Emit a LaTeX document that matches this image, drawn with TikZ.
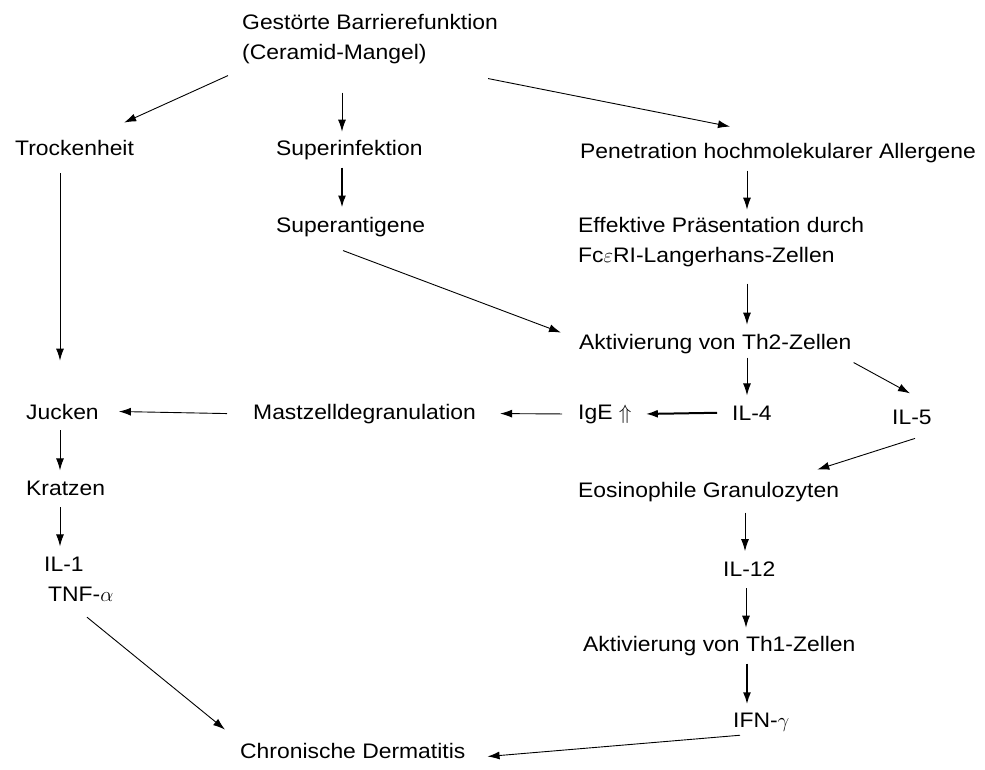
\documentclass[tikz,border=0pt]{standalone}
\usepackage{fontspec}
\setmainfont{Liberation Sans}[FakeStretch=1.09]
\usetikzlibrary{arrows.meta}

\tikzset{
  lbl/.style={inner sep=0pt, anchor=base west, align=left,
    font=\fontsize{21}{30}\selectfont},
  arr/.style={line width=0.9pt, -{Latex[length=12pt,width=8pt]}},
  arrbold/.style={arr, line width=2pt},
}

\begin{document}
\begin{tikzpicture}[x=1pt,y=-1pt]
\useasboundingbox (0,0) rectangle (985,769);

\node[lbl] (gest) at (242,59) {Gestörte Barrierefunktion\\(Ceramid-Mangel)};
\node[lbl] (trock) at (15,155) {Trockenheit};
\node[lbl] (superinf) at (276,155) {Superinfektion};
\node[lbl] (penet) at (580,158) {Penetration hochmolekularer Allergene};
\node[lbl] (superant) at (276,232) {Superantigene};
\node[lbl] (effekt) at (578,262) {Effektive Präsentation durch\\Fc$\varepsilon$RI-Langerhans-Zellen};
\node[lbl] (th2) at (579,349) {Aktivierung von Th2-Zellen};
\node[lbl] (jucken) at (26,419) {Jucken};
\node[lbl] (mast) at (253,419) {Mastzelldegranulation};
\node[lbl] (ige) at (578,419) {IgE $\Uparrow$};
\node[lbl] (il4) at (732,420) {IL-4};
\node[lbl] (il5) at (892,424) {IL-5};
\node[lbl] (kratzen) at (26,495) {Kratzen};
\node[lbl] (eos) at (578,497) {Eosinophile Granulozyten};
\node[lbl] (il1) at (44,601) {IL-1\\\hspace{4pt}TNF-$\alpha$};
\node[lbl] (il12) at (723,576) {IL-12};
\node[lbl] (th1) at (583,651) {Aktivierung von Th1-Zellen};
\node[lbl] (ifn) at (733,727) {IFN-$\gamma$};
\node[lbl] (chron) at (240,758) {Chronische Dermatitis};

\draw[arr] ([xshift=-14pt,yshift=-12pt]gest.south west) -- ([xshift=-10pt,yshift=17pt]trock.north east);
\draw[arr] ([xshift=100pt,yshift=-29pt]gest.south west) -- ([xshift=66pt,yshift=8pt]superinf.north west);
\draw[arr] ([xshift=-10pt,yshift=-15pt]gest.south east) -- ([xshift=150pt,yshift=16pt]penet.north west);
\draw[arrbold] ([xshift=66pt,yshift=-8pt]superinf.south west) -- ([xshift=66pt,yshift=9pt]superant.north west);
\draw[arr] ([xshift=167pt,yshift=-8pt]penet.south west) -- ([xshift=169pt,yshift=7pt]effekt.north west);
\draw[arr] ([xshift=67pt,yshift=-14pt]superant.south west) -- ([xshift=-18pt,yshift=1pt]th2.north west);
\draw[arr] ([xshift=169pt,yshift=-17pt]effekt.south west) -- ([xshift=168pt,yshift=9pt]th2.north west);
\draw[arr] ([xshift=45pt,yshift=-18pt]trock.south west) -- ([xshift=34pt,yshift=43pt]jucken.north west);
\draw[arr] ([xshift=168pt,yshift=-4pt]th2.south west) -- ([xshift=15pt,yshift=10pt]il4.north west);
\draw[arr] ([xshift=2pt,yshift=-9pt]th2.south east) -- ([xshift=18pt,yshift=16pt]il5.north west);
\draw[arrbold] ([xshift=-15pt]il4.west) -- ([xshift=14pt]ige.east);
\draw[arr] ([xshift=-16pt]ige.west) -- ([xshift=24pt]mast.east);
\draw[arr] ([xshift=-26pt]mast.west) -- ([xshift=20pt]jucken.east);
\draw[arr] ([xshift=34pt,yshift=-11pt]jucken.south west) -- ([xshift=34pt,yshift=10pt]kratzen.north west);
\draw[arr] ([xshift=34pt,yshift=-12pt]kratzen.south west) -- ([xshift=16pt,yshift=10pt]il1.north west);
\draw[arr] ([xshift=23pt,yshift=-14pt]il5.south west) -- ([xshift=-22pt,yshift=12pt]eos.north east);
\draw[arr] ([xshift=167pt,yshift=-11pt]eos.south west) -- ([xshift=22pt,yshift=10pt]il12.north west);
\draw[arr] ([xshift=23pt,yshift=-12pt]il12.south west) -- ([xshift=163pt,yshift=8pt]th1.north west);
\draw[arrbold] ([xshift=164pt,yshift=-8pt]th1.south west) -- ([xshift=14pt,yshift=8pt]ifn.north west);
\draw[arr] ([xshift=7pt,yshift=-4pt]ifn.south west) -- ([xshift=22pt,yshift=-6pt]chron.east);
\draw[arr] ([xshift=43pt,yshift=-16pt]il1.south west) -- ([xshift=-15pt,yshift=13pt]chron.north west);
\end{tikzpicture}
\end{document}
